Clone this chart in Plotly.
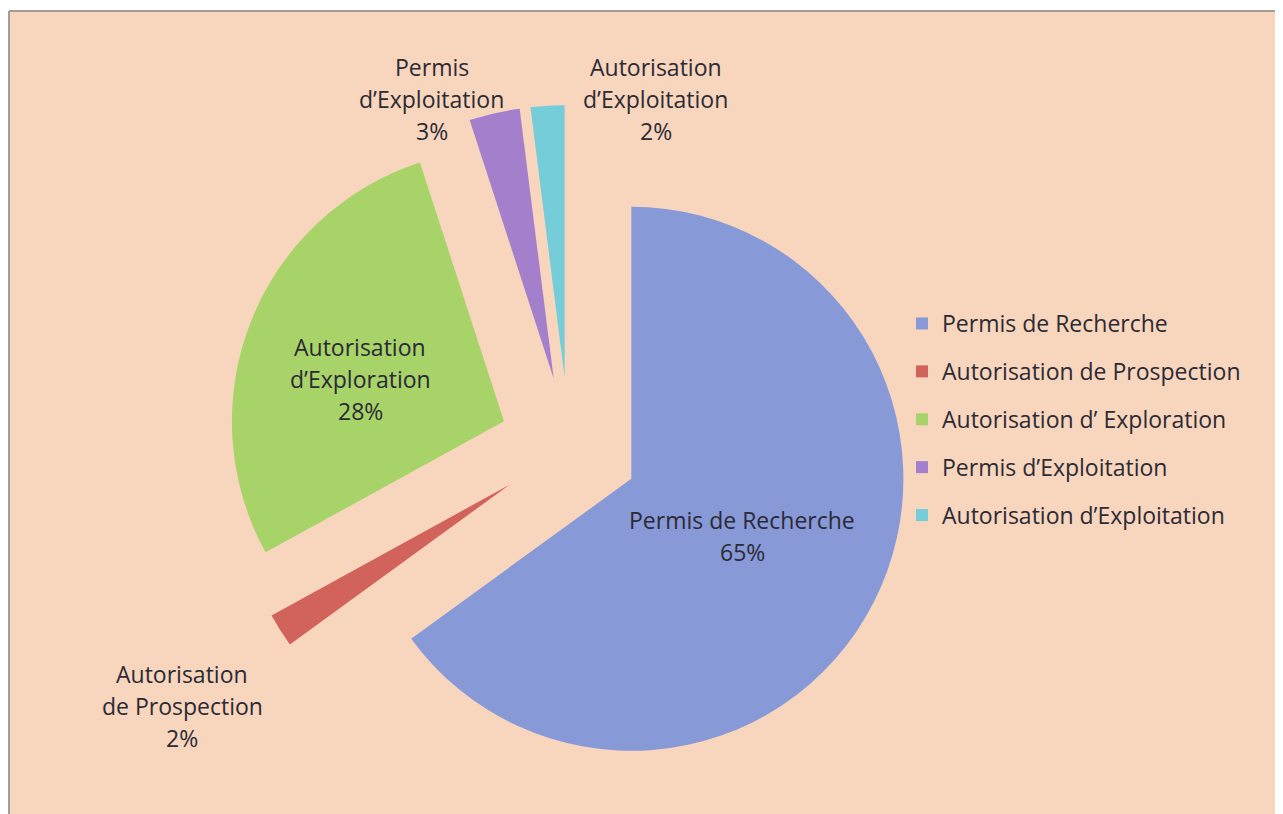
import plotly.graph_objects as go

# ---- data ----
categories = [
    "Permis de Recherche",
    "Autorisation de Prospection",
    "Autorisation d’ Exploration",
    "Permis d’Exploitation",
    "Autorisation d’Exploitation",
]
values = [65, 2, 28, 3, 2]
slice_labels = [
    ["Permis de Recherche"],
    ["Autorisation", "de Prospection"],
    ["Autorisation", "d’Exploration"],
    ["Permis", "d’Exploitation"],
    ["Autorisation", "d’Exploitation"],
]

# ---- style ----
colors = ["#8899D8", "#D2625C", "#A8D369", "#A47FCC", "#74CDD8"]
BG = "#F8D6BD"
TXT = "#2B2A35"
FONT = "Open Sans"
OFF = 8                      # page body margin
W, H = 1283 - OFF, 814 - OFF
PULL = 0.257
# label centres (page px) for each slice's text block
label_pos = [(742, 536), (182, 706), (360, 379), (432, 99), (656, 99)]
LINE_H = 32
FS = 23

fig = go.Figure()
fig.add_trace(go.Pie(
    labels=categories, values=values, sort=False, direction="clockwise",
    rotation=0, pull=[PULL] * len(values), textinfo="none",
    marker=dict(colors=colors, line=dict(width=0)),
    domain=dict(x=[0.16, 0.72], y=[0.0310, 0.8796]),
    showlegend=False, hoverinfo="label+percent",
))

# legend entries (one per category)
for i, (cat, col) in enumerate(zip(categories, colors)):
    fig.add_trace(go.Scatter(
        x=[None], y=[None], mode="markers", name=cat,
        marker=dict(symbol="square", size=12, color=col),
        legendgroup=f"g{i}", showlegend=True,
    ))

total = sum(values)
annotations = []
for lines, v, (px, py) in zip(slice_labels, values, label_pos):
    all_lines = lines + [f"{round(100 * v / total)}%"]
    n = len(all_lines)
    for j, t in enumerate(all_lines):
        y = py + (j - (n - 1) / 2) * LINE_H - OFF
        annotations.append(dict(
            x=(px - OFF) / W, y=1 - y / H, xref="paper", yref="paper",
            text=t, showarrow=False, xanchor="center", yanchor="middle",
            font=dict(family=FONT, size=FS, color=TXT),
        ))

fig.update_layout(
    width=W, height=H, margin=dict(l=0, r=0, t=0, b=0),
    paper_bgcolor=BG, plot_bgcolor="rgba(0,0,0,0)",
    xaxis=dict(visible=False), yaxis=dict(visible=False),
    shapes=[
        dict(type="rect", xref="paper", yref="paper", x0=0, x1=1,
             y0=1 - 3 / H, y1=1, fillcolor="white", line=dict(width=0),
             layer="below"),
        dict(type="rect", xref="paper", yref="paper", x0=0, x1=1 / W,
             y0=0, y1=1, fillcolor="white", line=dict(width=0),
             layer="below"),
        dict(type="line", xref="paper", yref="paper", x0=1 / W, x1=1,
             y0=1 - 3 / H, y1=1 - 3 / H, line=dict(color="#A39C96", width=2),
             layer="below"),
        dict(type="line", xref="paper", yref="paper", x0=1 / W, x1=1 / W,
             y0=0, y1=1 - 3 / H, line=dict(color="#A39C96", width=2),
             layer="below"),
    ],
    annotations=annotations,
    legend=dict(
        x=894 / W, y=1 - 294 / H, xanchor="left", yanchor="top",
        font=dict(family=FONT, size=FS, color=TXT),
        bgcolor="rgba(0,0,0,0)", tracegroupgap=15,
    ),
)

fig.write_html("out.html")
